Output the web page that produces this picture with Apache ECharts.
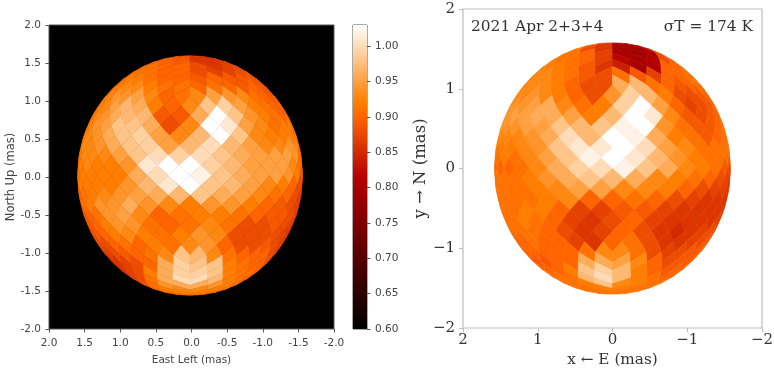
<!DOCTYPE html>
<html><head><meta charset="utf-8">
<style>html,body{margin:0;padding:0;background:#fff}#c{width:774px;height:369px;filter:blur(0.45px)}</style>
<script src="https://cdn.jsdelivr.net/npm/echarts@6/dist/echarts.min.js"></script>
</head><body><div id="c"></div>
<script>
// Brightness (x100) per HEALPix ring, north to south, listed left to right as seen in the image.
const leftRings = [
[89,87],
[90,89,86,86],
[90,90,89,86,86,87],
[91,91,90,90,88,86,87,88],
[91,91,91,90,90,88,87,87,88,89],
[91,92,92,91,90,90,89,90,89,89,89,89],
[91,92,93,93,92,91,91,90,91,90,89,90,89,89],
[92,93,94,94,95,93,90,91,93,95,94,93,91,90,89,89],
[92,92,93,95,97,96,92,90,93,98,99,95,92,91,90,90,90],
[92,93,94,96,97,97,89,89,96,103,98,94,92,91,90,90],
[92,92,94,95,98,98,96,88,93,103,101,95,93,91,92,92,91],
[92,93,94,96,98,99,95,93,97,103,98,93,92,92,92,91],
[92,93,93,94,96,98,99,95,97,100,97,95,93,93,94,93,91],
[92,93,93,93,95,98,100,99,100,98,96,95,95,95,94,91],
[91,92,93,92,92,94,101,103,103,99,97,95,95,95,93,91,90],
[91,92,92,92,92,96,100,103,102,98,96,95,95,94,92,89],
[91,92,92,92,92,94,97,101,103,98,97,95,93,92,90,88,88],
[90,91,92,93,94,95,96,97,98,96,95,93,91,90,88,87],
[90,91,92,94,94,96,94,93,92,94,94,92,90,89,88,87,87],
[89,90,91,94,95,93,90,91,92,92,91,90,89,89,88,87],
[89,89,90,92,94,94,91,90,91,93,91,88,88,89,88,87,86],
[88,89,90,92,93,92,91,92,94,93,88,88,88,88,87,86],
[88,88,88,90,91,90,92,91,93,94,90,88,88,89,88,87,86],
[87,87,88,89,90,91,93,98,97,93,91,90,90,90,88,87],
[86,86,87,88,90,96,99,98,98,92,91,90,90,89],
[86,87,88,92,96,99,99,98,92,91,91,90],
[87,88,91,96,100,100,97,92,91,90],
[89,91,94,96,96,94,92,91],
[91,92,93,93,92,92],
[91,92,92,91],
[91,91]
];
const rightRings = [
[86,80],
[89,86,80,80],
[91,88,86,80,79,82],
[91,91,90,87,80,79,80,87],
[91,91,91,90,87,82,80,81,88,89],
[92,92,92,91,89,86,84,80,81,90,90,90],
[92,93,93,92,91,89,88,91,89,87,90,90,91,91],
[92,93,93,93,92,90,88,88,96,97,91,90,89,90,91,91],
[93,93,93,94,93,92,90,88,94,99,97,92,88,88,89,90,90],
[93,94,94,95,96,93,91,92,99,103,95,90,87,88,89,90],
[94,94,95,95,96,96,95,92,97,103,101,93,89,88,89,90,90],
[94,94,94,95,95,98,97,98,102,103,94,91,89,89,90,91],
[94,93,93,93,94,96,100,97,103,102,96,92,91,89,90,91,91],
[92,92,92,93,94,98,101,101,103,100,95,93,91,91,91,91],
[91,91,92,91,93,95,98,102,103,101,97,94,92,91,91,91,91],
[90,90,90,91,93,96,99,100,102,98,96,93,92,91,89,88],
[91,91,91,91,92,94,96,98,97,96,93,92,91,90,88,87,87],
[91,91,91,91,92,93,95,95,93,93,92,90,88,87,87,86],
[91,91,91,91,91,92,93,90,90,91,90,88,87,86,86,86,86],
[91,91,91,92,92,90,87,87,89,89,87,86,86,86,86,86],
[91,91,91,92,91,90,87,86,88,90,87,86,86,86,86,87,87],
[91,91,91,91,90,88,86,87,90,88,86,85,86,87,88,88],
[90,90,90,91,90,90,87,86,90,91,88,86,86,87,88,89,89],
[90,90,90,90,90,90,91,93,93,91,88,87,88,89,89,90],
[89,89,89,90,90,96,96,95,93,90,88,89,89,90],
[90,90,90,92,98,99,97,92,90,89,90,90],
[91,91,91,97,100,97,92,91,90,90],
[91,91,92,98,93,92,91,91],
[91,91,92,92,91,91],
[91,91,91,91],
[91,91]
];
const colorbarTicks = [0.6,0.65,0.7,0.75,0.8,0.85,0.9,0.95,1.0];
const colorbarRange = [0.6,1.03];
const discRadius = 1.575;
const leftDiscCentre = [0.02,0.02];
const rightDiscCentre = [0,0];
const nside = 8;

function clip01(v){return Math.max(0,Math.min(1,v));}
function gistHat(t){
  t=clip01(t);
  const r=Math.round(255*Math.min(1,t/0.7)),g=Math.round(255*clip01(2*t-1)),b=Math.round(255*clip01(4*t-3));
  return 'rgb('+r+','+g+','+b+')';
}
function valueColor(v){return gistHat((v-colorbarRange[0])/(colorbarRange[1]-colorbarRange[0]));}

// HEALPix projection-plane diamond -> orthographic view of the sphere
function toDisc(xs,ys,xc,centre){
  const PI=Math.PI,ay=Math.abs(ys);
  let z,phi;
  if(ay<=PI/4){z=8*ys/(3*PI);phi=xs;}
  else{
    const s=2-4*ay/PI;
    z=Math.sign(ys)*(1-s*s/3);
    phi=s>1e-9?xc+(xs-xc)/s:xc;
  }
  phi=Math.max(-PI/2,Math.min(PI/2,phi));
  const c=Math.sqrt(Math.max(0,1-z*z));
  return [centre[0]+discRadius*c*Math.sin(phi),centre[1]+discRadius*z];
}
function ringData(rings){
  const out=[];
  rings.forEach((row,r)=>row.forEach((v,k)=>out.push([v,r+1,k,row.length])));
  return out;
}
function tileRenderer(centre){
  return function(params,api){
    const PI=Math.PI,v=api.value(0),ring=api.value(1),k=api.value(2),len=api.value(3);
    const phi=len%2===0?PI/2-(k+0.5)*PI/len:PI/2-k*PI/(len-1);
    const ys=PI/2-ring*PI/(4*nside);
    const d=PI/(4*nside);
    const xc=PI/4+Math.floor(phi/(PI/2))*(PI/2);
    const iN=ring<=2*nside?ring:4*nside-ring;
    const xs=iN<nside?xc+(phi-xc)*(iN/nside):phi;
    const corners=[[xs,ys+d],[xs+d,ys],[xs,ys-d],[xs-d,ys]];
    const pts=[];
    for(let a=0;a<4;a++){
      const p=corners[a],q=corners[(a+1)%4];
      for(let s=0;s<5;s++){
        const f=s/5;
        const m=toDisc(p[0]+(q[0]-p[0])*f,p[1]+(q[1]-p[1])*f,xc,centre);
        pts.push(api.coord(m));
      }
    }
    const col=valueColor(v/100);
    return {type:'polygon',shape:{points:pts},style:{fill:col,stroke:col,lineWidth:0.6}};
  };
}
function renderBar(params,api){
  const a=api.coord([0,colorbarRange[0]]),b=api.coord([1,colorbarRange[1]]);
  const stops=[];
  for(let i=0;i<=64;i++){stops.push({offset:i/64,color:gistHat(1-i/64)});}
  return {type:'rect',shape:{x:a[0],y:b[1],width:b[0]-a[0],height:a[1]-b[1]},
    style:{fill:{type:'linear',x:0,y:0,x2:0,y2:1,colorStops:stops}}};
}
const sans='"DejaVu Sans"',serif='"DejaVu Serif"';
const lc='#555',tc='#444',rc='#bdbdbd',rt='#333';
const leftFmt=v=>Number(v).toFixed(1);
const rightFmt=v=>v<0?'\u2212'+Math.abs(v):String(v);
const chart=echarts.init(document.getElementById('c'),null,{renderer:'canvas'});
chart.setOption({
  animation:false,
  backgroundColor:'#fff',
  grid:[
    {left:49,top:25,width:285,height:304,show:true,backgroundColor:'#000',borderColor:lc,borderWidth:1,outerBoundsMode:'none'},
    {left:353,top:25,width:14,height:304,show:true,borderColor:lc,borderWidth:1,outerBoundsMode:'none'},
    {left:463,top:9,width:299,height:319,show:true,borderColor:rc,borderWidth:1.2,outerBoundsMode:'none'}
  ],
  xAxis:[
    {gridIndex:0,type:'value',min:-2,max:2,interval:0.5,inverse:true,splitLine:{show:false},
     axisLine:{show:false,onZero:false},axisTick:{length:3.5,lineStyle:{color:lc}},
     axisLabel:{color:tc,fontFamily:sans,fontSize:10.5,margin:9,formatter:leftFmt},
     name:'East Left (mas)',nameLocation:'middle',nameGap:26,nameTextStyle:{color:tc,fontFamily:sans,fontSize:10.5}},
    {gridIndex:1,type:'value',min:0,max:1,show:false},
    {gridIndex:2,type:'value',min:-2,max:2,interval:1,inverse:true,splitLine:{show:false},
     axisLine:{show:false,onZero:false},axisTick:{length:4,lineStyle:{color:rc}},
     axisLabel:{color:rt,fontFamily:serif,fontSize:15,margin:5,formatter:rightFmt},
     name:'x \u2190 E (mas)',nameLocation:'middle',nameGap:24,nameTextStyle:{color:rt,fontFamily:serif,fontSize:15.3}}
  ],
  yAxis:[
    {gridIndex:0,type:'value',min:-2,max:2,interval:0.5,splitLine:{show:false},
     axisLine:{show:false,onZero:false},axisTick:{length:3.5,lineStyle:{color:lc}},
     axisLabel:{color:tc,fontFamily:sans,fontSize:10.5,margin:8,formatter:leftFmt},
     name:'North Up (mas)',nameLocation:'middle',nameGap:32,nameTextStyle:{color:tc,fontFamily:sans,fontSize:11.5}},
    {gridIndex:1,type:'value',position:'right',min:colorbarRange[0],max:colorbarRange[1],splitLine:{show:false},
     axisLine:{show:false,onZero:false},
     axisTick:{length:3.5,customValues:colorbarTicks,lineStyle:{color:lc}},
     axisLabel:{customValues:colorbarTicks,color:tc,fontFamily:sans,fontSize:10.5,margin:8,formatter:v=>Number(v).toFixed(2)}},
    {gridIndex:2,type:'value',min:-2,max:2,interval:1,splitLine:{show:false},
     axisLine:{show:false,onZero:false},axisTick:{length:4,lineStyle:{color:rc}},
     axisLabel:{color:rt,fontFamily:serif,fontSize:15,margin:8,formatter:rightFmt},
     name:'y \u2192 N (mas)',nameLocation:'middle',nameGap:28,nameTextStyle:{color:rt,fontFamily:serif,fontSize:16.5}}
  ],
  series:[
    {type:'custom',xAxisIndex:0,yAxisIndex:0,clip:false,data:ringData(leftRings),renderItem:tileRenderer(leftDiscCentre),silent:true},
    {type:'custom',xAxisIndex:1,yAxisIndex:1,clip:false,data:[[0,colorbarRange[0]]],renderItem:renderBar,silent:true},
    {type:'custom',xAxisIndex:2,yAxisIndex:2,clip:false,data:ringData(rightRings),renderItem:tileRenderer(rightDiscCentre),silent:true}
  ],
  graphic:[
    {type:'text',left:471,top:19,style:{text:'2021 Apr 2+3+4',fontFamily:serif,fontSize:15.4,fill:rt}},
    {type:'text',right:21,top:19,style:{text:'\u03c3T = 174 K',fontFamily:serif,fontSize:15.4,fill:rt}}
  ]
});
</script></body></html>
